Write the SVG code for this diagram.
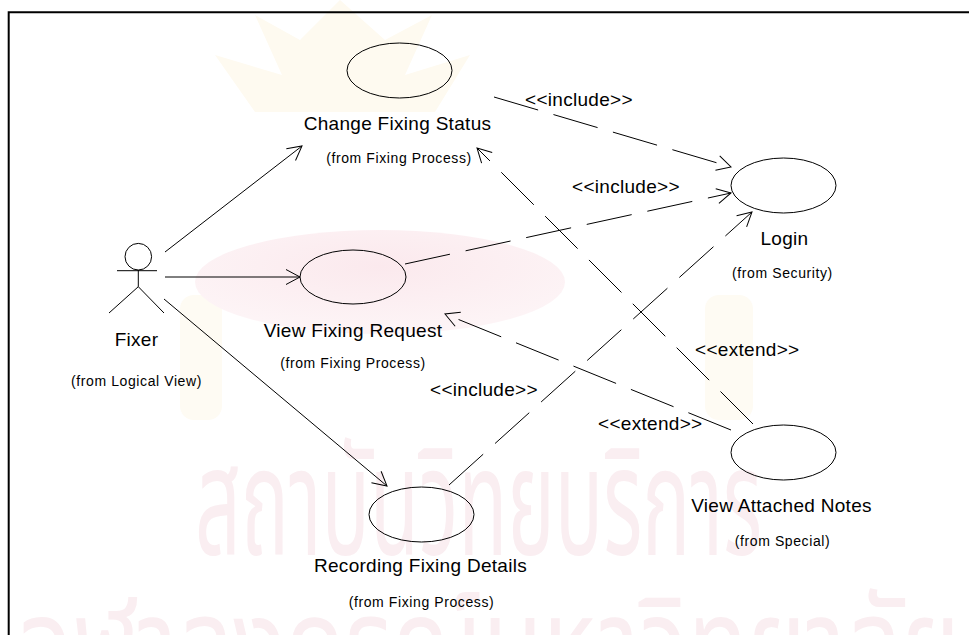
<svg xmlns="http://www.w3.org/2000/svg" width="969" height="635" viewBox="0 0 969 635">
  <style>
    .uc { fill: none; stroke: #000; stroke-width: 1; }
    .actor { fill: none; stroke: #000; stroke-width: 1; }
    .assoc { fill: none; stroke: #000; stroke-width: 1; marker-end: url(#open); }
    .dep { fill: none; stroke: #000; stroke-width: 1; stroke-dasharray: 46 16; marker-end: url(#open); }
    .name { font-family: "Liberation Sans", Arial, sans-serif; font-size: 19px; letter-spacing: 0.3px; fill: #000; text-anchor: middle; }
    .from { font-family: "Liberation Sans", Arial, sans-serif; font-size: 14px; letter-spacing: 0.6px; fill: #000; text-anchor: middle; }
    .stereo { font-family: "Liberation Sans", Arial, sans-serif; font-size: 19px; letter-spacing: 0.3px; fill: #000; }
    .wm { font-family: "Noto Sans Thai", "Noto Serif Thai", Loma, Garuda, Norasi, "DejaVu Sans", sans-serif; fill: #faeef1; }
  </style>
  <defs>
    <marker id="open" markerUnits="userSpaceOnUse" markerWidth="20" markerHeight="20" viewBox="-16 -10 18 20" refX="0" refY="0" orient="auto" overflow="visible">
      <path d="M-14,-7.5 L0,0 L-14,7.5" fill="none" stroke="#000" stroke-width="1"/>
    </marker>
    <radialGradient id="cushion" cx="0.5" cy="0.35" r="0.6">
      <stop offset="0" stop-color="#fbe9ed"/>
      <stop offset="1" stop-color="#fdf4f6"/>
    </radialGradient>
  </defs>

  <rect width="969" height="635" fill="#fff"/>

  <!-- background watermark: crown, columns, cushion and institute name -->
  <g id="watermark">
    <path d="M340,0 L300,40 L255,15 L282,75 L215,55 L255,112 L435,112 L470,55 L405,75 L432,15 L385,40 Z" fill="#fefaf0"/>
    <rect x="180" y="295" width="42" height="125" rx="14" fill="#fefbf3"/>
    <rect x="705" y="295" width="48" height="125" rx="14" fill="#fefbf3"/>
    <ellipse cx="380" cy="282" rx="185" ry="52" fill="url(#cushion)"/>
    <text class="wm" x="195" y="555" font-size="150" textLength="567" lengthAdjust="spacingAndGlyphs">สถาบันวิทยบริการ</text>
    <text class="wm" x="20" y="690" font-size="130" textLength="940" lengthAdjust="spacingAndGlyphs">จุฬาลงกรณ์มหาวิทยาลัย</text>
  </g>

  <!-- frame -->
  <path d="M8.7,636 V12.3 H970" fill="none" stroke="#000" stroke-width="2"/>

  <g id="connectors">
    <path class="assoc" d="M165,252 L302,146"/>
    <path class="assoc" d="M165,277 L300,277"/>
    <path class="assoc" d="M164,299 L387,486"/>
    <path class="dep" d="M494,97 L731,167"/>
    <path class="dep" d="M405,264 L731,193"/>
    <path class="dep" d="M449,485 L752,212"/>
    <path class="dep" d="M753,424 L477,148"/>
    <path class="dep" d="M731,430 L445,314"/>
    <text class="stereo" x="525" y="106">&lt;&lt;include&gt;&gt;</text>
    <text class="stereo" x="572" y="193">&lt;&lt;include&gt;&gt;</text>
    <text class="stereo" x="430" y="396">&lt;&lt;include&gt;&gt;</text>
    <text class="stereo" x="695" y="356">&lt;&lt;extend&gt;&gt;</text>
    <text class="stereo" x="598" y="430">&lt;&lt;extend&gt;&gt;</text>
  </g>

  <g id="fixer">
    <circle class="actor" cx="138.3" cy="256.7" r="13.3"/>
    <path class="actor" d="M117,270.7 H157 M138.3,270 V286.7 M138.3,286.7 L109,313 M138.3,286.7 L164,313"/>
    <text class="name" x="136.5" y="346">Fixer</text>
    <text class="from" x="136.5" y="386">(from Logical View)</text>
  </g>

  <g id="change-fixing-status">
    <ellipse class="uc" cx="399.5" cy="70.5" rx="52.5" ry="27.5"/>
    <text class="name" x="397.5" y="130">Change Fixing Status</text>
    <text class="from" x="399" y="163">(from Fixing Process)</text>
  </g>

  <g id="view-fixing-request">
    <ellipse class="uc" cx="353" cy="277" rx="53" ry="27"/>
    <text class="name" x="353" y="337">View Fixing Request</text>
    <text class="from" x="353" y="368">(from Fixing Process)</text>
  </g>

  <g id="login">
    <ellipse class="uc" cx="783.5" cy="185.5" rx="52.5" ry="27.5"/>
    <text class="name" x="784.5" y="245">Login</text>
    <text class="from" x="782.5" y="278">(from Security)</text>
  </g>

  <g id="recording-fixing-details">
    <ellipse class="uc" cx="421.5" cy="514.5" rx="52.5" ry="27.5"/>
    <text class="name" x="420.5" y="572">Recording Fixing Details</text>
    <text class="from" x="421.5" y="607">(from Fixing Process)</text>
  </g>

  <g id="view-attached-notes">
    <ellipse class="uc" cx="783.5" cy="452.5" rx="52.5" ry="27.5"/>
    <text class="name" x="781.5" y="512">View Attached Notes</text>
    <text class="from" x="782.5" y="546">(from Special)</text>
  </g>
</svg>
